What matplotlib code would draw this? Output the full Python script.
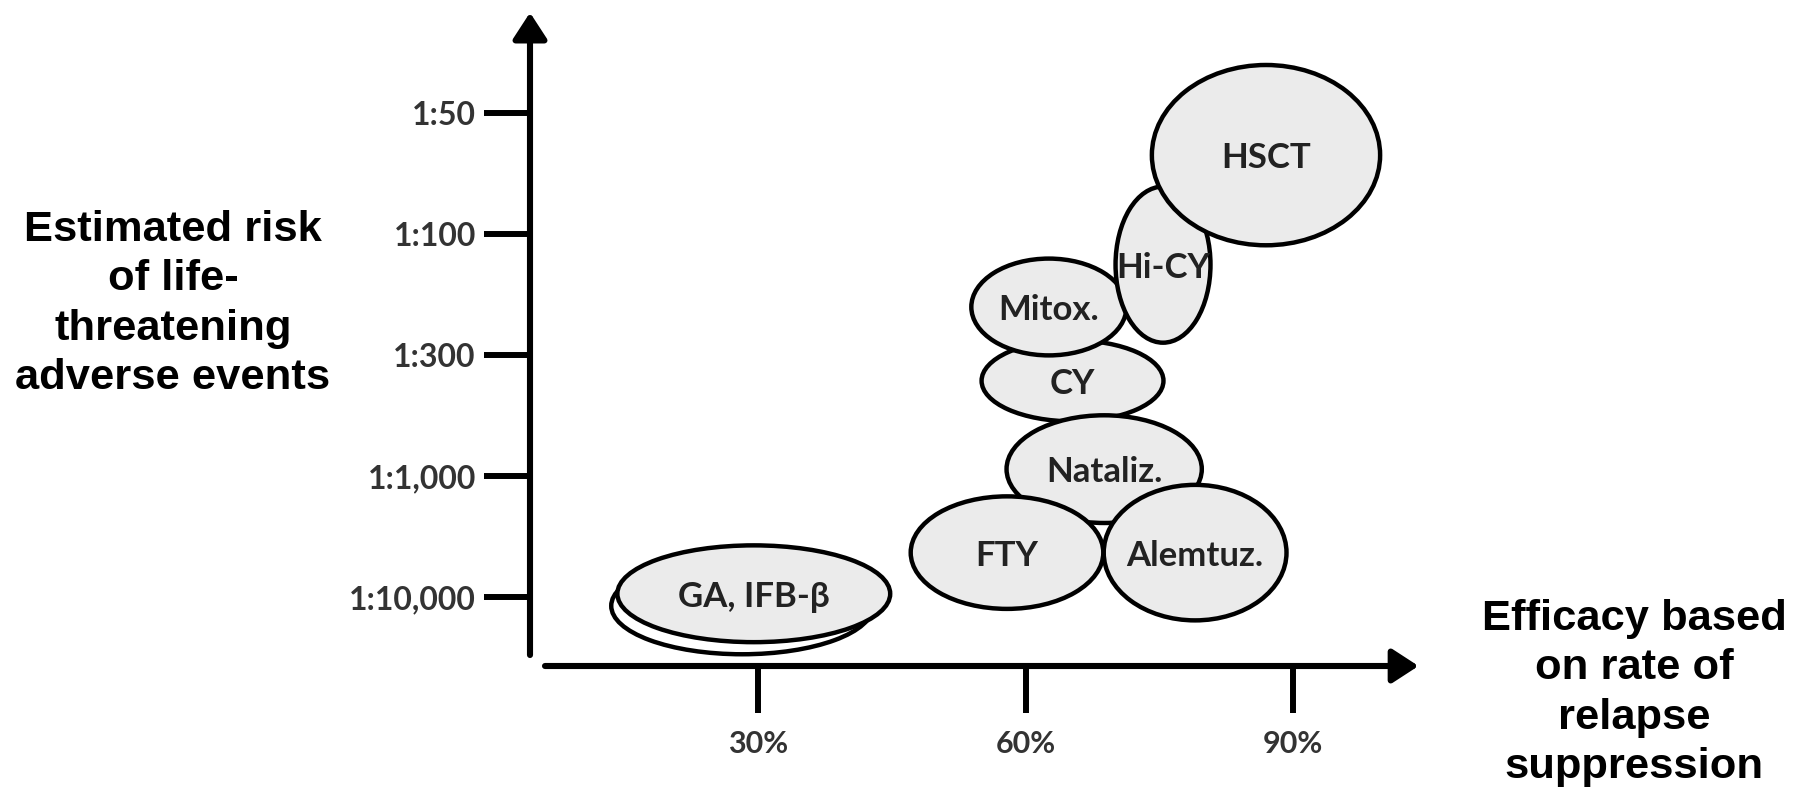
import matplotlib
matplotlib.use("Agg")
import matplotlib.pyplot as plt
from matplotlib.patches import Ellipse

# ---------------- data ----------------
risk_labels = ["1:10,000", "1:1,000", "1:300", "1:100", "1:50"]
risk_levels = [0, 1, 2, 3, 4]
efficacy_ticks = [30, 60, 90]
efficacy_labels = ["30%", "60%", "90%"]

# therapies (drawing order, back to front)
therapies = ["GA, IFB-β", "CY", "Mitox.", "Hi-CY", "HSCT", "Nataliz.", "Alemtuz.", "FTY"]
efficacy = [29.5, 65.25, 62.6, 75.4, 86.95, 68.8, 79.0, 57.9]        # centre, %
risk = [0.03, 1.79, 2.40, 2.75, 3.655, 1.06, 0.37, 0.37]            # centre, risk level
efficacy_span = [30.6, 20.4, 17.4, 10.65, 25.6, 21.9, 20.5, 21.6]    # ellipse width, %
risk_span = [0.80, 0.67, 0.80, 1.29, 1.49, 0.89, 1.12, 0.93]         # ellipse height, levels

x_title = "Efficacy based\non rate of\nrelapse\nsuppression"
y_title = "Estimated risk\nof life-\nthreatening\nadverse events"

# ---------------- styles ----------------
FILL = "#ebebeb"
EDGE = "black"
LABEL_COLOR = "#222222"
TICK_COLOR = "#333333"
SHADOW_OFFSET = (-1.3, -0.10)   # second outline behind the first-line therapies

fig = plt.figure(figsize=(18.01, 7.91), dpi=100)
W, H = 1801, 791
ax = fig.add_axes([530 / W, 125 / H, 893 / W, 658 / H])
ax.set_xlim(4.4, 104.56)
ax.set_ylim(-0.567, 4.871)
for s in ax.spines.values():
    s.set_visible(False)
ax.patch.set_alpha(0)

ax.set_xticks(efficacy_ticks, efficacy_labels)
ax.set_yticks(risk_levels, risk_labels)
ax.tick_params(axis="y", direction="out", length=33, width=4.3, pad=6,
               labelsize=23, labelcolor=TICK_COLOR, color="black")
ax.tick_params(axis="x", direction="out", length=34, width=4.3, pad=12,
               labelsize=22, labelcolor=TICK_COLOR, color="black")
for lab in ax.get_xticklabels() + ax.get_yticklabels():
    lab.set_fontfamily("Lato")
    lab.set_fontweight("bold")

# axis lines with arrow heads
arrow_kw = dict(arrowstyle="-|>,head_length=0.4,head_width=0.26", lw=4.4,
                color="black", mutation_scale=40, shrinkA=0, shrinkB=0)
ax.annotate("", xy=(0, 0.993), xytext=(0, 0.0167), xycoords="axes fraction",
            arrowprops=arrow_kw, annotation_clip=False)
ax.annotate("", xy=(0.995, 0), xytext=(0.0168, 0), xycoords="axes fraction",
            arrowprops=arrow_kw, annotation_clip=False)

# ellipses
for i, (name, x, y, w, h) in enumerate(zip(therapies, efficacy, risk,
                                            efficacy_span, risk_span)):
    z = 3 + 2 * i
    if i == 0:
        ax.add_patch(Ellipse((x + SHADOW_OFFSET[0], y + SHADOW_OFFSET[1]), w * 0.96, h,
                             facecolor="white", edgecolor=EDGE, lw=3.2, zorder=z - 0.5))
    ax.add_patch(Ellipse((x, y), w, h, facecolor=FILL, edgecolor=EDGE,
                         lw=3.2, zorder=z))
    ax.text(x, y, name, ha="center", va="center_baseline", fontsize=25,
            fontfamily="Lato", fontweight="bold", color=LABEL_COLOR, zorder=z + 1)

title_kw = dict(fontsize=31.3, fontweight="bold", family="Liberation Sans",
                ha="center", va="center", linespacing=1.3, color="black")
fig.text(173 / W, 1 - 304 / H, y_title, **title_kw)
fig.text(1634 / W, 1 - 693 / H, x_title, **title_kw)

fig.savefig("out.png", dpi=100, facecolor="white")
